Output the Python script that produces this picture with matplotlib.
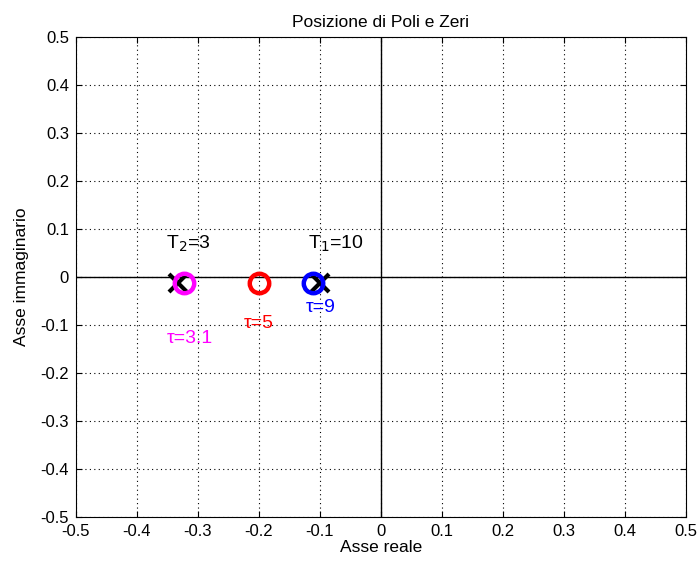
import numpy as np
import matplotlib.pyplot as plt

plt.rcParams['font.family'] = ['Liberation Sans', 'DejaVu Sans']

# poles (X) and zeros (O) on the real axis
poles = [-1/3, -1/10]
pole_labels = ['T$_2$=3', 'T$_1$=10']
zeros = [-1/3.1, -1/5, -1/9]
zero_colors = ['magenta', 'red', 'blue']
zero_labels = ['τ=3.1', 'τ=5', 'τ=9']
ticks = [-0.5, -0.4, -0.3, -0.2, -0.1, 0, 0.1, 0.2, 0.3, 0.4, 0.5]
tick_labels = ['-0.5', '-0.4', '-0.3', '-0.2', '-0.1', '0', '0.1', '0.2', '0.3', '0.4', '0.5']
mark_y = -0.012

fig = plt.figure(figsize=(6.97, 5.66), dpi=100)
ax = fig.add_axes([0.109, 0.0866, 0.875, 0.848])

ax.axhline(0, color='k', lw=1)
ax.axvline(0, color='k', lw=1)

for p in poles:
    ax.plot(p, mark_y, marker='x', ms=13, mew=3, color='k')
for z, c in zip(zeros, zero_colors):
    ax.plot(z, mark_y, marker='o', ms=14, mew=3.2, mfc='none', mec=c)

# labels
ax.text(-0.352, 0.07, pole_labels[0], fontsize=14, ha='left', va='center')
ax.text(-0.12, 0.07, pole_labels[1], fontsize=14, ha='left', va='center')
ax.text(-0.314, -0.128, zero_labels[0], fontsize=14, color='magenta', ha='center', va='center')
ax.text(-0.2, -0.096, zero_labels[1], fontsize=14, color='red', ha='center', va='center')
ax.text(-0.099, -0.063, zero_labels[2], fontsize=14, color='blue', ha='center', va='center')

ax.set_xlim(-0.5, 0.5)
ax.set_ylim(-0.5, 0.5)
ax.set_xticks(ticks)
ax.set_yticks(ticks)
ax.set_xticklabels(tick_labels)
ax.set_yticklabels(tick_labels)
ax.tick_params(direction='in', top=True, right=True, labelsize=12, length=4, pad=5)
ax.grid(True, color='k', linestyle=(0, (1, 3)), linewidth=0.8)

ax.set_title('Posizione di Poli e Zeri', fontsize=12.5, pad=7)
ax.set_xlabel('Asse reale', fontsize=12.5, labelpad=1)
ax.set_ylabel('Asse immaginario', fontsize=12.5, labelpad=8)

fig.savefig('out.png', dpi=100)
